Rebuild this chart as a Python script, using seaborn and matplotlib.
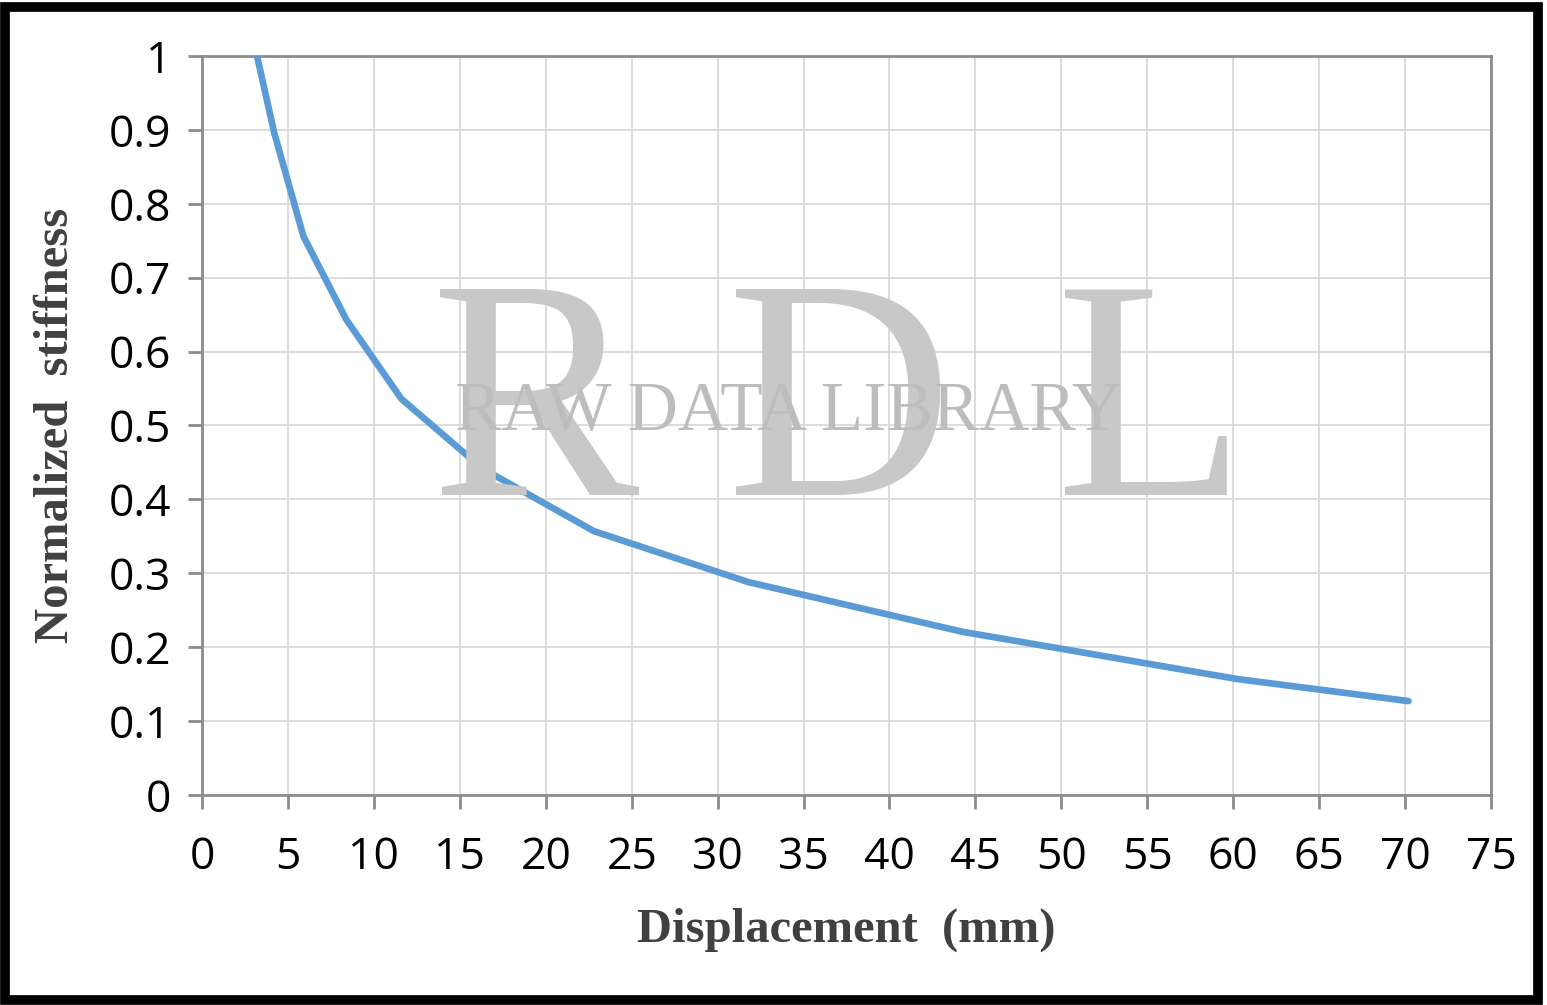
import matplotlib
matplotlib.use("Agg")
import matplotlib.pyplot as plt
import seaborn as sns
import pandas as pd

# values
displacement = [3.2, 4.2, 5.9, 8.4, 11.6, 16.3, 22.8, 31.8, 44.2, 60.2, 70.2]
stiffness = [1.0, 0.896, 0.756, 0.643, 0.536, 0.442, 0.357, 0.288, 0.221, 0.157, 0.127]

x_ticks = list(range(0, 80, 5))
y_ticks = [0, 0.1, 0.2, 0.3, 0.4, 0.5, 0.6, 0.7, 0.8, 0.9, 1]
y_labels = ["0", "0.1", "0.2", "0.3", "0.4", "0.5", "0.6", "0.7", "0.8", "0.9", "1"]

df = pd.DataFrame({"Displacement": displacement, "Stiffness": stiffness})

sns.set_style("white")
plt.rcParams['font.family'] = ['Open Sans', 'DejaVu Sans']

fig = plt.figure(figsize=(15.47, 10.05), dpi=100)
ax = fig.add_axes([0.1306, 0.2090, 0.8332, 0.7353])

# watermark
wm = "#c8c8c8"
for letter, xpos in [("R", 0.346), ("D", 0.543), ("L", 0.744)]:
    fig.text(xpos, 0.507, letter, fontsize=225, family="Liberation Serif", color=wm,
             ha="center", va="baseline", zorder=0)
fig.text(0.510, 0.572, "RAW DATA LIBRARY", fontsize=50, family="Liberation Serif",
         color="#bdbdbd", ha="center", va="baseline", zorder=0)
ax.patch.set_alpha(0)

sns.lineplot(data=df, x="Displacement", y="Stiffness", ax=ax, color="#5b9bd5",
             linewidth=4.8, solid_capstyle="round", zorder=3)

ax.set_xlim(0, 75)
ax.set_ylim(0, 1)
ax.set_xticks(x_ticks)
ax.set_yticks(y_ticks)
ax.set_yticklabels(y_labels)
ax.grid(True, color="#d9d9d9", linewidth=1.3)
for s in ax.spines.values():
    s.set_color("#8c8c8c")
    s.set_linewidth(2)
ax.tick_params(axis="both", which="both", direction="out", length=10, width=2,
               color="#8c8c8c", labelsize=32, labelcolor="black")
ax.tick_params(axis="x", pad=19, bottom=True)
ax.tick_params(axis="y", pad=12, left=True)

ax.set_xlabel("Displacement  (mm)", family="Liberation Serif", fontweight="bold",
              fontsize=35, color="#404040", labelpad=20)
ax.set_ylabel("Normalized  stiffness", family="Liberation Serif", fontweight="bold",
              fontsize=35, color="#404040", labelpad=22)

# black frame around the figure
frame = plt.Rectangle((0.003, 0.005), 0.991, 0.988, transform=fig.transFigure,
                      fill=False, edgecolor="black", linewidth=7)
fig.patches.append(frame)

fig.savefig("out.png", dpi=100)
